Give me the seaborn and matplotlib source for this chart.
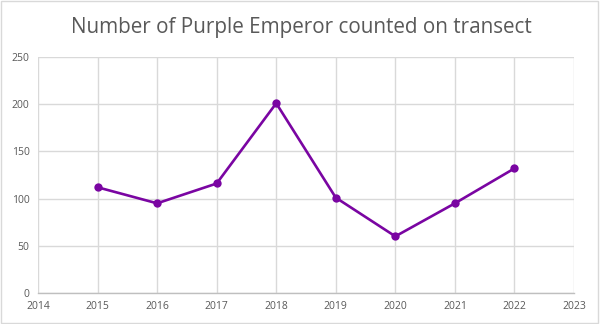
import matplotlib
matplotlib.use("Agg")
import matplotlib.pyplot as plt
import seaborn as sns
import pandas as pd
from matplotlib.patches import Rectangle

years = [2015, 2016, 2017, 2018, 2019, 2020, 2021, 2022]
counts = [112, 95, 116, 201, 101, 60, 95, 132]
x_ticks = [2014, 2015, 2016, 2017, 2018, 2019, 2020, 2021, 2022, 2023]
y_ticks = [0, 50, 100, 150, 200, 250]
title = "Number of Purple Emperor counted on transect"

sns.set_style("white")
plt.rcParams['font.family'] = ['Open Sans', 'DejaVu Sans']

df = pd.DataFrame({"year": years, "count": counts})

fig = plt.figure(figsize=(6.03, 3.24), dpi=100)
ax = fig.add_axes([38/603, 1-293/324, (574-38)/603, (293-57)/324])

sns.lineplot(data=df, x="year", y="count", ax=ax, color="#7A05A2",
             linewidth=1.9, marker="o", markersize=6, markeredgewidth=0)

ax.set_xlim(2014, 2023)
ax.set_ylim(0, 250)
ax.set_xticks(x_ticks)
ax.set_yticks(y_ticks)
ax.set_xticklabels([str(t) for t in x_ticks])
ax.grid(True, color="#D9D9D9", linewidth=1)
ax.set_axisbelow(True)
for s in ["top", "right", "left"]:
    ax.spines[s].set_visible(False)
ax.spines["bottom"].set_color("#BFBFBF")
ax.spines["bottom"].set_linewidth(1)
ax.tick_params(axis="both", length=0, labelsize=7.5, colors="#595959", pad=6)
ax.set_xlabel("")
ax.set_ylabel("")

fig.text(0.5, 1-28/324, title, ha="center", va="center", fontsize=14.9, color="#595959")
fig.patches.append(Rectangle((0.001, 0.003), 0.99, 0.994, transform=fig.transFigure,
                             fill=False, edgecolor="#D9D9D9", linewidth=1))

fig.savefig("out.png", dpi=100)
